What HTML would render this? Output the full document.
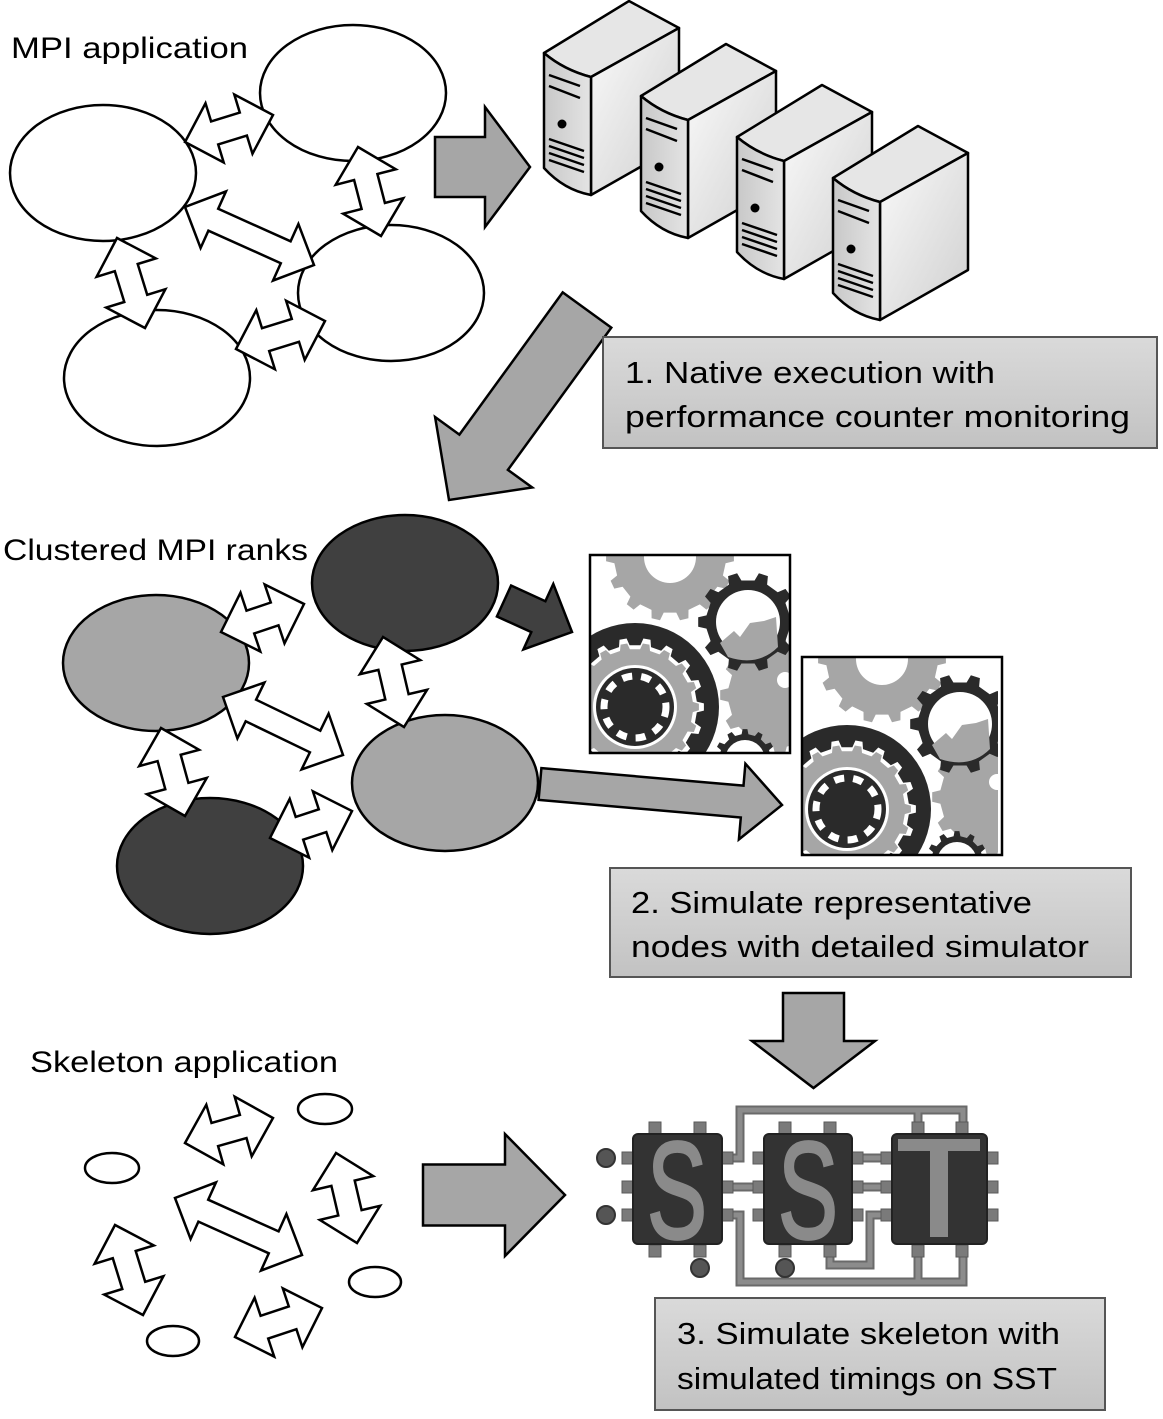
<!DOCTYPE html>
<html><head><meta charset="utf-8"><style>
html,body{margin:0;padding:0;background:#fff;}
svg{display:block;}
text{font-family:"Liberation Sans",sans-serif;fill:#000;}
</style></head><body>
<svg id="s" width="1163" height="1419" viewBox="0 0 1163 1419" xmlns="http://www.w3.org/2000/svg">
<defs>
<linearGradient id="box" x1="0" y1="0" x2="0" y2="1"><stop offset="0" stop-color="#dadada"/><stop offset="1" stop-color="#c2c2c2"/></linearGradient>
<linearGradient id="side" x1="0" y1="0" x2="1" y2="1"><stop offset="0" stop-color="#fafafa"/><stop offset="1" stop-color="#cfcfcf"/></linearGradient>
<linearGradient id="front" x1="0" y1="0" x2="1" y2="0"><stop offset="0" stop-color="#c8c8c8"/><stop offset="1" stop-color="#e4e4e4"/></linearGradient>
<clipPath id="g1"><rect x="590" y="555" width="200" height="198"/></clipPath>
<clipPath id="g2"><rect x="802" y="657" width="196" height="198"/></clipPath>
</defs>
<g id="content"></g>
<rect x="603" y="337" width="554" height="111" fill="url(#box)" stroke="#555" stroke-width="2"/>
<text x="625" y="383" font-size="31" textLength="370" lengthAdjust="spacingAndGlyphs">1. Native execution with</text>
<text x="625" y="427" font-size="31" textLength="505" lengthAdjust="spacingAndGlyphs">performance counter monitoring</text>
<rect x="610" y="868" width="521" height="109" fill="url(#box)" stroke="#555" stroke-width="2"/>
<text x="631" y="913" font-size="31" textLength="401" lengthAdjust="spacingAndGlyphs">2. Simulate representative</text>
<text x="631" y="957" font-size="31" textLength="458" lengthAdjust="spacingAndGlyphs">nodes with detailed simulator</text>
<rect x="655" y="1298" width="450" height="112" fill="url(#box)" stroke="#555" stroke-width="2"/>
<text x="677" y="1344" font-size="31" textLength="383" lengthAdjust="spacingAndGlyphs">3. Simulate skeleton with</text>
<text x="677" y="1389" font-size="31" textLength="380" lengthAdjust="spacingAndGlyphs">simulated timings on SST</text>
<text x="11" y="58" font-size="30" textLength="237" lengthAdjust="spacingAndGlyphs">MPI application</text>
<text x="3" y="560" font-size="30" textLength="305" lengthAdjust="spacingAndGlyphs">Clustered MPI ranks</text>
<text x="30" y="1072" font-size="30" textLength="308" lengthAdjust="spacingAndGlyphs">Skeleton application</text>
<g id="sst"></g>
</svg>
<script>
var NS="http://www.w3.org/2000/svg",C=document.getElementById("content"),S=document.getElementById("sst");
function el(p,t,a){var e=document.createElementNS(NS,t);for(var k in a)e.setAttribute(k,a[k]);p.appendChild(e);return e;}
function pts(a){return a.map(function(p){return p[0].toFixed(1)+","+p[1].toFixed(1)}).join(" ");}
function dbl(x1,y1,x2,y2,sw,hw,hl){sw=sw||12;hw=hw||31;hl=hl||31;
 var dx=x2-x1,dy=y2-y1,L=Math.hypot(dx,dy),ux=dx/L,uy=dy/L,nx=-uy,ny=ux;
 function P(t,n){return [x1+ux*t+nx*n,y1+uy*t+ny*n];}
 var a=[P(0,0),P(hl,hw),P(hl,sw),P(L-hl,sw),P(L-hl,hw),P(L,0),P(L-hl,-hw),P(L-hl,-sw),P(hl,-sw),P(hl,-hw)];
 el(C,"polygon",{points:pts(a),fill:"#fff",stroke:"#000","stroke-width":2.5,"stroke-linejoin":"miter"});}
function sgl(x1,y1,x2,y2,sw,hw,hl,fill){
 var dx=x2-x1,dy=y2-y1,L=Math.hypot(dx,dy),ux=dx/L,uy=dy/L,nx=-uy,ny=ux;
 function P(t,n){return [x1+ux*t+nx*n,y1+uy*t+ny*n];}
 var a=[P(0,sw),P(L-hl,sw),P(L-hl,hw),P(L,0),P(L-hl,-hw),P(L-hl,-sw),P(0,-sw)];
 el(C,"polygon",{points:pts(a),fill:fill||"#a6a6a6",stroke:"#000","stroke-width":2.5});}
function ell(cx,cy,rx,ry,f){el(C,"ellipse",{cx:cx,cy:cy,rx:rx,ry:ry,fill:f,stroke:"#000","stroke-width":2.5});}
ell(103,173,93,68,"#fff");ell(353,93,93,68,"#fff");ell(391,293,93,68,"#fff");ell(157,378,93,68,"#fff");
dbl(185,142,273,115);dbl(358,147,381,236);dbl(185,207,314,265);dbl(117,238,145,328);dbl(236,349,325,321);
sgl(435,167,530,167,30,60,45);
function server(ox,oy){
 var g=el(C,"g",{transform:"translate("+ox+","+oy+")","stroke":"#000","stroke-width":2.5,"stroke-linejoin":"round"});
 el(g,"path",{d:"M0,0 L85,-52 L135,-25 L47,24 Q20,17 0,0Z",fill:"#e6e6e6"});
 el(g,"path",{d:"M47,24 L135,-25 L135,92 L47,142Z",fill:"url(#side)"});
 el(g,"path",{d:"M0,0 Q20,17 47,24 L47,142 Q20,137 0,115Z",fill:"url(#front)"});
 el(g,"path",{d:"M5,22 L36,33 M5,33 L36,45 M5,86 L40,98 M5,93 L40,105 M5,100 L40,112 M5,107 L40,119",stroke:"#000","stroke-width":2.5,fill:"none"});
 el(g,"circle",{cx:18,cy:71,r:4.5,fill:"#000",stroke:"none"});}
server(544,53);server(641,96);server(737,137);server(833,178);
sgl(587,310,449,500,30,60,59);
ell(405,583,93,68,"#404040");ell(156,663,93,68,"#a6a6a6");ell(445,783,93,68,"#a6a6a6");ell(210,866,93,68,"#404040");
dbl(221,632,304,604);dbl(383,637,404,727);dbl(223,697,343,755);dbl(161,728,185,816);dbl(270,838,352,811);
sgl(504,601,572,632,17,36,37,"#404040");
sgl(540,784,782,805,16,38,40);
function gear(p,cx,cy,r,n,th,fill,hole,holeFill){
 var a=[],i;for(i=0;i<n;i++){var b=i/n*2*Math.PI,w=Math.PI/n;
 [[b-w*0.5,r],[b-w*0.3,r+th],[b+w*0.3,r+th],[b+w*0.5,r]].forEach(function(q){a.push([cx+q[1]*Math.cos(q[0]),cy+q[1]*Math.sin(q[0])]);});
 [[b+w*0.5,r],[b+w*1.5,r]].forEach(function(q){a.push([cx+q[1]*Math.cos(q[0]),cy+q[1]*Math.sin(q[0])]);});}
 el(p,"polygon",{points:pts(a),fill:fill});
 if(hole)el(p,"circle",{cx:cx,cy:cy,r:hole,fill:holeFill||"#fff"});}
function gearbox(x,y,cid){
 var g=el(C,"g",{"clip-path":"url(#"+cid+")"});
 el(g,"rect",{x:x,y:y,width:200,height:200,fill:"#fff"});
 gear(g,x+80,y+2,56,14,8,"#a6a6a6",26);
 gear(g,x+190,y+140,52,12,8,"#a6a6a6");
 el(g,"circle",{cx:x+195,cy:y+125,r:8,fill:"#fff"});
 gear(g,x+155,y+205,26,12,5,"#2a2a2a",20,"#fff");
 el(g,"circle",{cx:x+45,cy:y+152,r:84,fill:"#2a2a2a"});
 gear(g,x+45,y+152,62,18,7,"#fff");
 gear(g,x+45,y+152,58,18,6,"#a6a6a6");
 el(g,"circle",{cx:x+45,cy:y+152,r:42,fill:"#fff"});
 el(g,"circle",{cx:x+45,cy:y+152,r:39,fill:"#2a2a2a"});
 el(g,"circle",{cx:x+45,cy:y+152,r:31,fill:"none",stroke:"#fff","stroke-width":7,"stroke-dasharray":"10 9"});
 gear(g,x+158,y+67,42,10,8,"#2a2a2a",32);
 el(g,"path",{d:"M"+(x+130)+","+(y+88)+" l14,-12 l6,6 l10,-14 l14,-2 l12,-4 l2,30 q-20,20 -50,10z",fill:"#a6a6a6"});
 el(C,"rect",{x:x,y:y,width:200,height:198,fill:"none",stroke:"#000","stroke-width":2.5});}
gearbox(590,555,"g1");gearbox(802,657,"g2");
ell(325,1109,27,15,"#fff");ell(112,1168,27,15,"#fff");ell(375,1282,26,15,"#fff");ell(173,1341,26,15,"#fff");
dbl(185,1143,273,1118);dbl(336,1153,357,1243);dbl(175,1198,302,1255);dbl(115,1225,143,1315);dbl(235,1337,322,1308);
sgl(813.5,993,813.5,1088,30.5,61.5,47);
sgl(423,1195,565,1195,30.5,61,60);
var tr={fill:"none",stroke:"#6a6a6a","stroke-width":9,"stroke-linejoin":"miter"};
var tr2={fill:"none",stroke:"#8c8c8c","stroke-width":5,"stroke-linejoin":"miter"};
var paths=["M728,1158 H740 V1110 H963 V1134","M918,1134 V1110","M728,1215 H740 V1282 H963 V1242","M918,1242 V1282","M830,1245 V1265 H870 V1215 H892","M722,1187 H764","M852,1158 H892","M852,1187 H892"];
paths.forEach(function(d){el(S,"path",Object.assign({d:d},tr));});
paths.forEach(function(d){el(S,"path",Object.assign({d:d},tr2));});
function pin(x,y,w,h){el(S,"rect",{x:x,y:y,width:w,height:h,fill:"#7a7a7a",stroke:"#5a5a5a","stroke-width":1});}
[[633,722,655,700],[764,852,785,830],[892,987,918,962]].forEach(function(c){
 [1158,1187,1215].forEach(function(y){pin(c[0]-11,y-6,11,12);pin(c[1],y-6,11,12);});
 [c[2],c[3]].forEach(function(x){pin(x-6,1122,12,12);pin(x-6,1245,12,12);});
 el(S,"rect",{x:c[0],y:1134,width:c[1]-c[0],height:110,rx:5,fill:"#333",stroke:"#222","stroke-width":2});});
[[606,1158],[606,1215],[700,1268],[785,1268]].forEach(function(b){el(S,"circle",{cx:b[0],cy:b[1],r:9,fill:"#555",stroke:"#333","stroke-width":2});});
function letter(ch,x){var t=el(S,"text",{x:x,y:1238,"font-size":138,textLength:60,lengthAdjust:"spacingAndGlyphs",stroke:"#8a8a8a","stroke-width":3});t.textContent=ch;t.setAttribute("style","fill:#8a8a8a");}
letter("S",647);letter("S",778);
el(S,"rect",{x:898,y:1139,width:82,height:12,fill:"#8a8a8a"});
el(S,"rect",{x:930,y:1150,width:18,height:87,fill:"#8a8a8a"});
</script>
</body></html>
